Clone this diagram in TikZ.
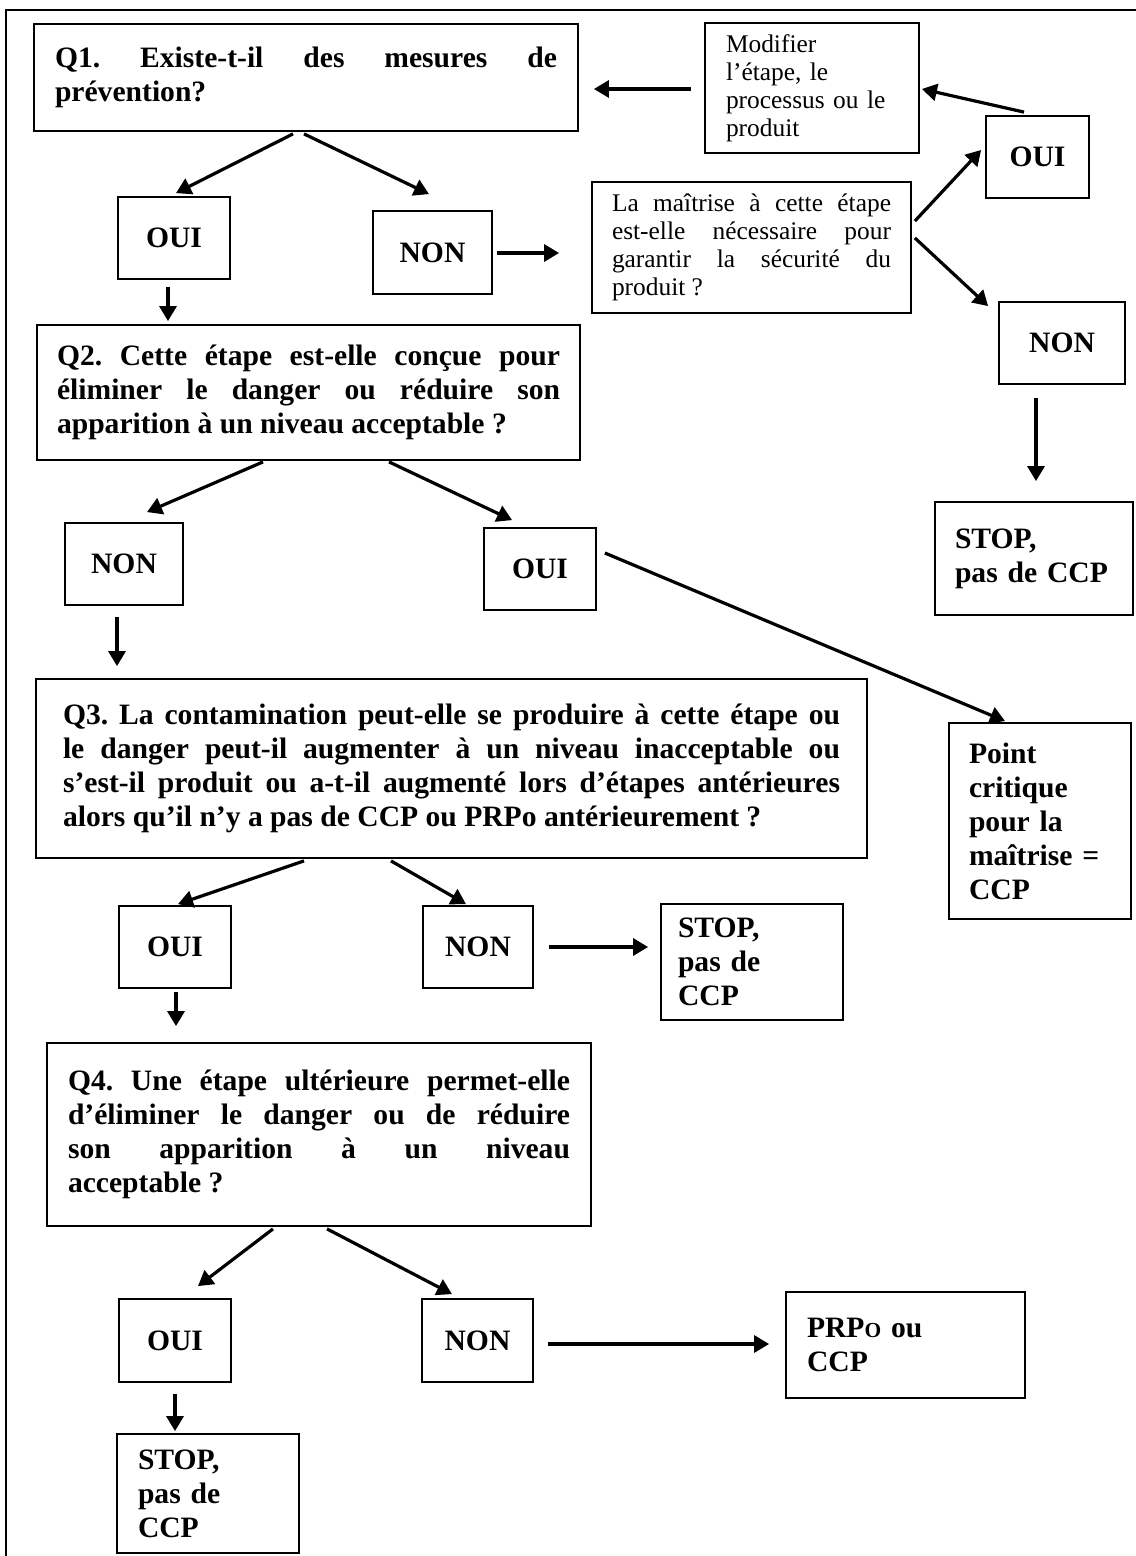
\documentclass[tikz,border=0pt]{standalone}
\usepackage{fontspec}
\setmainfont{Liberation Serif}
\usetikzlibrary{arrows.meta}
\newcommand{\bigfont}{\fontsize{14.8}{17}\selectfont\bfseries}
\newcommand{\smallfont}{\fontsize{12.7}{14}\selectfont}
\hyphenpenalty=10000
\exhyphenpenalty=10000
\frenchspacing
\tikzstyle{box}=[draw, line width=0.9pt, font=\bigfont]
\tikzstyle{qbox}=[box, align=justify]
\tikzstyle{ans}=[box, align=center]
\tikzstyle{leftbox}=[box, align=left]
\tikzstyle{arr}=[line width=1.6pt, -{Triangle[length=7.5pt, width=8.5pt]}]

\begin{document}
\begin{tikzpicture}[x=0.5pt, y=-0.5pt]
        \useasboundingbox (0,0) rectangle (1135,1556);
        \draw[line width=1pt] (6,1570) -- (6,10) -- (1145,10);
        \node[qbox, text width=251pt, inner xsep=10.5pt, minimum height=53.5pt] (q1) at (306,77.5) {Q1. Existe-t-il des mesures de\linebreak prévention?};
        \node[ans, minimum width=56pt, minimum height=41pt] (oui1) at (174,238) {OUI};
        \node[ans, minimum width=59.5pt, minimum height=41.5pt] (non1) at (432.5,252.5) {NON};
        \node[leftbox, font=\smallfont, text width=86pt, inner xsep=10.5pt, minimum height=65pt] (mod) at (812,88) {Modifier\\l’étape, le\\processus ou le\\produit};
        \node[qbox, font=\smallfont, text width=139.5pt, inner xsep=10pt, minimum height=65.5pt] (maitrise) at (751.5,247.5) {La maîtrise à cette étape\linebreak est-elle nécessaire pour\linebreak garantir la sécurité du\linebreak produit ?};
        \node[ans, minimum width=51.5pt, minimum height=41pt] (oui2) at (1037.5,157) {OUI};
        \node[ans, minimum width=63pt, minimum height=41pt] (non2) at (1062,343) {NON};
        \node[leftbox, text width=79pt, inner xsep=10pt, minimum height=56.5pt] (stop1) at (1034,558.5) {STOP,\\pas de CCP};
        \node[qbox, text width=251.5pt, inner xsep=10pt, minimum height=67.5pt] (q2) at (308.5,392.5) {Q2. Cette étape est-elle conçue pour\linebreak éliminer le danger ou réduire son\linebreak apparition à un niveau acceptable ?};
        \node[ans, minimum width=59pt, minimum height=41pt] (non3) at (124,564) {NON};
        \node[ans, minimum width=56pt, minimum height=41pt] (oui3) at (540,569) {OUI};
        \node[leftbox, text width=71pt, inner xsep=10pt, minimum height=98pt] (point) at (1040,821) {Point\\critique\\pour la\\maîtrise =\\CCP};
        \node[qbox, text width=388.5pt, inner xsep=13.5pt, minimum height=89.5pt] (q3) at (451.5,768.5) {Q3. La contamination peut-elle se produire à cette étape ou\linebreak le danger peut-il augmenter à un niveau inacceptable ou\linebreak s’est-il produit ou a-t-il augmenté lors d’étapes antérieures\linebreak alors qu’il n’y a pas de CCP ou PRPo antérieurement ?};
        \node[ans, minimum width=56pt, minimum height=41pt] (oui4) at (175,947) {OUI};
        \node[ans, minimum width=55pt, minimum height=41pt] (non4) at (478,947) {NON};
        \node[leftbox, text width=74pt, inner xsep=8.5pt, minimum height=58pt] (stop2) at (752,962) {STOP,\\pas de\\CCP};
        \node[qbox, text width=251pt, inner xsep=10.5pt, minimum height=91.5pt] (q4) at (319,1134.5) {Q4. Une étape ultérieure permet-elle\linebreak d’éliminer le danger ou de réduire\linebreak son apparition à un niveau\linebreak acceptable ?};
        \node[ans, minimum width=56pt, minimum height=41.5pt] (oui5) at (175,1340.5) {OUI};
        \node[ans, minimum width=55.5pt, minimum height=41.5pt] (non5) at (477.5,1340.5) {NON};
        \node[leftbox, text width=98.5pt, inner xsep=10.5pt, minimum height=53pt] (prpo) at (905.5,1345) {PRP{\fontsize{10.7}{12}\selectfont O} ou\\CCP};
        \node[leftbox, text width=70pt, inner xsep=10.5pt, minimum height=59.5pt] (stop3) at (208,1493.5) {STOP,\\pas de\\CCP};
        \draw[arr] ([shift={(-13,2)}]q1.south) -- ([shift={(2,-3)}]oui1.north);
        \draw[arr] ([shift={(-2,2)}]q1.south) -- ([shift={(-3.5,-16)}]non1.north);
        \draw[arr] ([shift={(-6,7)}]oui1.south) -- ([shift={(-140.5,-3)}]q2.north);
        \draw[arr] ([shift={(4,0.5)}]non1.east) -- ([shift={(-32,5.5)}]maitrise.west);
        \draw[arr] ([shift={(3,-26.5)}]maitrise.east) -- ([shift={(-4,-7)}]oui2.west);
        \draw[arr] ([shift={(3,-9.5)}]maitrise.east) -- ([shift={(-10,5)}]non2.north west);
        \draw[arr] ([shift={(-13.5,-3)}]oui2.north) -- ([shift={(2,1)}]mod.east);
        \draw[arr] ([shift={(-13,1)}]mod.west) -- ([shift={(15,11.5)}]q1.east);
        \draw[arr] ([shift={(-26,13)}]non2.south) -- ([shift={(2,-20)}]stop1.north);
        \draw[arr] ([shift={(-45.5,1)}]q2.south) -- ([shift={(23,-10)}]non3.north);
        \draw[arr] ([shift={(80.5,1)}]q2.south) -- ([shift={(-28,-7)}]oui3.north);
        \draw[arr] ([shift={(-7,11)}]non3.south) -- ([shift={(-334.5,-12)}]q3.north);
        \draw[arr] ([shift={(8,-16)}]oui3.east) -- ([shift={(-35,-1)}]point.north);
        \draw[arr] ([shift={(-147.5,2)}]q3.south) -- ([shift={(3,-1)}]oui4.north);
        \draw[arr] ([shift={(-60.5,2)}]q3.south) -- ([shift={(-12,-1)}]non4.north);
        \draw[arr] ([shift={(15,0)}]non4.east) -- ([shift={(-12,-15)}]stop2.west);
        \draw[arr] ([shift={(1,3)}]oui4.south) -- ([shift={(-143,-16)}]q4.north);
        \draw[arr] ([shift={(-46,2)}]q4.south) -- ([shift={(23,-12)}]oui5.north);
        \draw[arr] ([shift={(8,2)}]q4.south) -- ([shift={(-25.5,-4)}]non5.north);
        \draw[arr] ([shift={(14,3.5)}]non5.east) -- ([shift={(-16,-1)}]prpo.west);
        \draw[arr] ([shift={(0,11)}]oui5.south) -- ([shift={(-33,-2)}]stop3.north);
\end{tikzpicture}
\end{document}
